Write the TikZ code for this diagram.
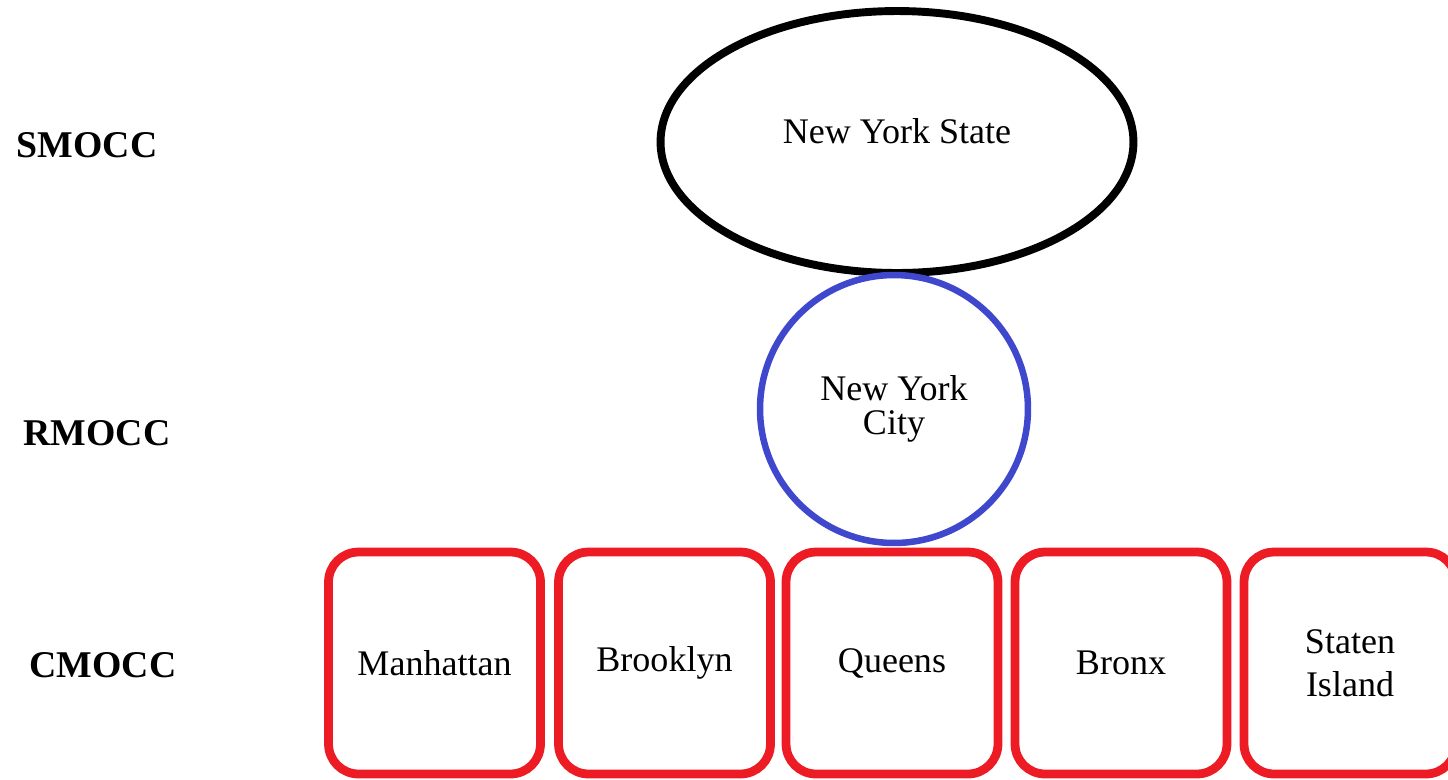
\documentclass[tikz,border=0pt]{standalone}
\usepackage{fontspec}
\setmainfont{Liberation Serif}
\usetikzlibrary{shapes.geometric}
\definecolor{cityblue}{HTML}{3F48CC}
\definecolor{boroughred}{HTML}{ED1C24}

\begin{document}
\begin{tikzpicture}[
    x=0.02cm, y=-0.02cm,
    state/.style={ellipse, draw=black, line width=4.5pt, minimum width=9.46cm, minimum height=5.24cm, text depth=0.45cm, font=\fontsize{20.5}{24}\selectfont},
    city/.style={circle, draw=cityblue, line width=3.7pt, minimum size=5.36cm, align=center, font=\fontsize{20.5}{19}\selectfont},
    borough/.style={rectangle, draw=boroughred, line width=5pt, rounded corners=0.6cm, minimum width=4.24cm, minimum height=4.44cm, align=center, font=\fontsize{20.5}{24.5}\selectfont},
    level/.style={font=\fontsize{21.5}{26}\selectfont\bfseries}
]
\useasboundingbox (0,0) rectangle (1448,779);
\clip (0,0) rectangle (1448,779);

% Levels
\node[level] (smocc) at (87,145) {SMOCC};
\node[level] (rmocc) at (97,433) {RMOCC};
\node[level] (cmocc) at (103,665) {CMOCC};

% State
\node[state] (nys) at (897,142) {New York State};

% City
\node[city] (nyc) at (894,409) {New York\\City};

% Boroughs
\node[borough] (manhattan) at (434.5,663) {Manhattan};
\node[borough] (brooklyn) at (664.5,663) {Brooklyn};
\node[borough] (queens) at (892,663) {Queens};
\node[borough] (bronx) at (1121,663) {Bronx};
\node[borough] (staten) at (1350,663) {Staten\\Island};

\end{tikzpicture}
\end{document}
